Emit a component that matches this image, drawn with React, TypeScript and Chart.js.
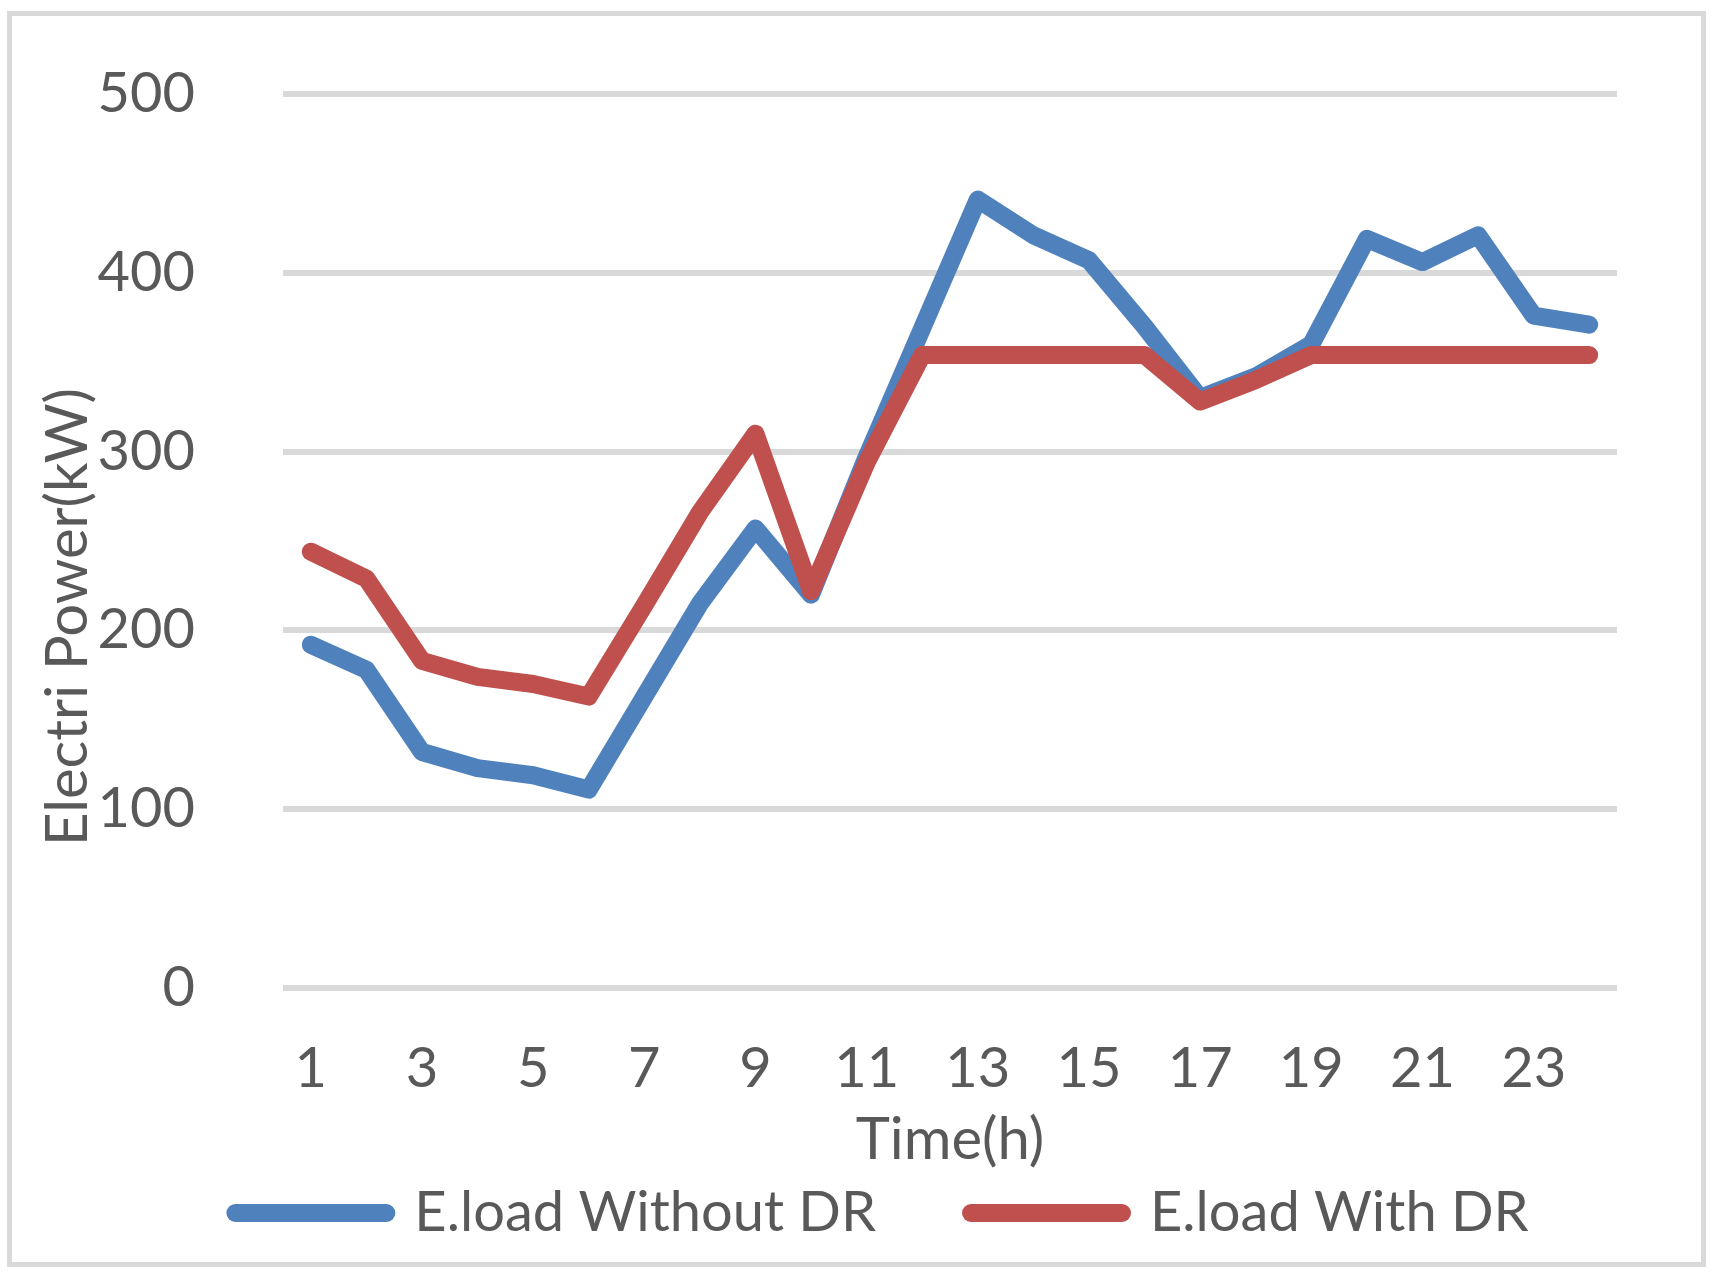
import React, { useEffect, useRef } from "react";
import { Chart, registerables } from "chart.js";

Chart.register(...registerables);

const hours = ["1","2","3","4","5","6","7","8","9","10","11","12","13","14","15","16","17","18","19","20","21","22","23","24"];
const loadWithoutDR = [192, 178, 132, 123, 119, 111, 163, 215, 257, 220, 297, 369, 441, 421, 407, 370, 330, 342, 360, 419, 406, 421, 376, 371];
const loadWithDR = [244, 229, 183, 174, 170, 163, 214, 266, 310, 222, 294, 354, 354, 354, 354, 354, 328, 340, 354, 354, 354, 354, 354, 354];
const seriesNames = ["E.load Without DR", "E.load With DR"];
const seriesColors = ["#4F81BD", "#C0504D"];
const yTicks = [0, 100, 200, 300, 400, 500];
const xTitle = "Time(h)";
const yTitle = "Electri Power(kW)";

const FONT = "Lato";
const SIZE = 56;
const TITLE_SIZE = 58;
const TEXT = "#595959";
const LINE_W = 18;

const axisTitles = {
  id: "axisTitles",
  afterDraw(chart: any) {
    const { ctx, chartArea } = chart;
    ctx.save();
    ctx.font = `${TITLE_SIZE}px ${FONT}`;
    ctx.fillStyle = TEXT;
    ctx.textAlign = "center";
    ctx.textBaseline = "middle";
    ctx.fillText(xTitle, (chartArea.left + chartArea.right) / 2, chartArea.bottom + 152);
    ctx.translate(68, 617);
    ctx.rotate(-Math.PI / 2);
    ctx.fillText(yTitle, 0, 0);
    ctx.restore();
  },
};

export default function App() {
  const ref = useRef<HTMLCanvasElement | null>(null);

  useEffect(() => {
    let chart: Chart | null = null;
    let cancelled = false;
    const make = () => {
      if (cancelled || !ref.current) return;
      const font = { family: FONT, size: SIZE };
      chart = new Chart(ref.current, {
        type: "line",
        data: {
          labels: hours,
          datasets: [
            {
              label: seriesNames[0],
              data: loadWithoutDR,
              borderColor: seriesColors[0],
              backgroundColor: seriesColors[0],
              borderWidth: LINE_W,
              borderCapStyle: "round",
              borderJoinStyle: "round",
              pointRadius: 0,
              pointHoverRadius: 0,
              tension: 0,
              order: 1,
            },
            {
              label: seriesNames[1],
              data: loadWithDR,
              borderColor: seriesColors[1],
              backgroundColor: seriesColors[1],
              borderWidth: LINE_W,
              borderCapStyle: "round",
              borderJoinStyle: "round",
              pointRadius: 0,
              pointHoverRadius: 0,
              tension: 0,
              order: 0,
            },
          ],
        },
        options: {
          animation: false,
          responsive: false,
          devicePixelRatio: 1,
          events: [],
          layout: { padding: { left: 47, right: 0, top: 94, bottom: 30 } },
          plugins: {
            tooltip: { enabled: false },
            legend: {
              position: "bottom",
              align: "center",
              labels: {
                usePointStyle: true,
                pointStyleWidth: 151,
                padding: 95,
                color: TEXT,
                font,
                generateLabels: () =>
                  seriesNames.map((name, i) => ({
                    text: name,
                    fillStyle: seriesColors[i],
                    strokeStyle: seriesColors[i],
                    lineWidth: LINE_W,
                    lineCap: "round",
                    pointStyle: "line",
                    hidden: false,
                    datasetIndex: i,
                    fontColor: TEXT,
                  })) as any,
              },
            },
          },
          scales: {
            x: {
              type: "category",
              offset: true,
              grid: { display: false, drawTicks: false },
              border: { display: false },
              ticks: {
                autoSkip: false,
                maxRotation: 0,
                padding: 47,
                color: TEXT,
                font,
                callback: (_v: any, i: number) => (i % 2 === 0 ? hours[i] : ""),
              },
              afterFit: (s: any) => {
                s.height = 102;
              },
            },
            y: {
              type: "linear",
              min: 0,
              max: 500,
              afterBuildTicks: (s: any) => {
                s.ticks = yTicks.map((v) => ({ value: v }));
              },
              grid: {
                color: "#D9D9D9",
                lineWidth: 6,
                drawTicks: true,
                tickLength: 88,
                tickColor: "rgba(0,0,0,0)",
              },
              border: { display: false },
              ticks: { padding: 0, color: TEXT, font },
              afterFit: (s: any) => {
                s.width = 236;
              },
            },
            yRight: {
              type: "linear",
              position: "right",
              display: true,
              grid: { display: false, drawTicks: false },
              border: { display: false },
              ticks: { display: false },
              afterFit: (s: any) => {
                s.width = 100;
              },
            },
          },
        },
        plugins: [axisTitles],
      } as any);
    };
    const fontsAny: any = (document as any).fonts;
    if (fontsAny && fontsAny.load) {
      fontsAny.load(`${SIZE}px ${FONT}`).then(make, make);
    } else {
      make();
    }
    return () => {
      cancelled = true;
      if (chart) chart.destroy();
    };
  }, []);

  return (
    <div style={{ position: "fixed", left: 0, top: 0, width: 1717, height: 1281, background: "#ffffff" }}>
      <div
        style={{
          position: "absolute",
          left: 7,
          top: 11,
          width: 1699,
          height: 1256,
          border: "5px solid #D9D9D9",
          boxSizing: "border-box",
        }}
      />
      <canvas
        ref={ref}
        width={1717}
        height={1281}
        style={{ position: "absolute", left: 0, top: 0, width: 1717, height: 1281 }}
      />
    </div>
  );
}
